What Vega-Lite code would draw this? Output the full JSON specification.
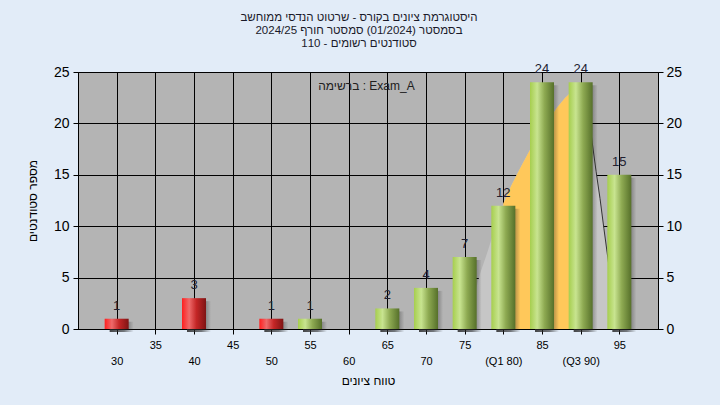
{
  "$schema": "https://vega.github.io/schema/vega-lite/v6.json",
  "width": 580,
  "height": 257,
  "autosize": {"type": "none"},
  "padding": {"left": 78, "top": 72, "right": 62, "bottom": 76},
  "background": "#e2ecf8",
  "title": {
    "text": ["היסטוגרמת ציונים בקורס - שרטוט הנדסי ממוחשב", "בסמסטר  (01/2024)  סמסטר חורף 2024/25", "סטודנטים רשומים - 110"],
    "fontSize": 11.5,
    "fontWeight": "normal",
    "font": "Liberation Sans",
    "color": "#1a1a2a",
    "anchor": "middle",
    "lineHeight": 13,
    "offset": 14,
    "dx": -9
  },
  "config": {
    "view": {"fill": "#b4b4b4", "stroke": "#000000", "strokeWidth": 1},
    "font": "Liberation Sans",
    "axis": {
      "domainColor": "#000000",
      "tickColor": "#000000",
      "gridColor": "#000000",
      "gridOpacity": 1,
      "labelColor": "#000000",
      "titleColor": "#000000",
      "labelFont": "Liberation Sans",
      "titleFont": "Liberation Sans",
      "titleFontWeight": "normal",
      "labelOverlap": false,
      "labelFlush": false,
      "tickSize": 5
    }
  },
  "datasets": {
    "bars": [
      {"g": 30, "n": 1}, {"g": 40, "n": 3}, {"g": 50, "n": 1}, {"g": 55, "n": 1},
      {"g": 65, "n": 2}, {"g": 70, "n": 4}, {"g": 75, "n": 7}, {"g": 80, "n": 12},
      {"g": 85, "n": 24}, {"g": 90, "n": 24}, {"g": 95, "n": 15}
    ],
    "curve": [
      {"g": 74, "v": 0}, {"g": 76, "v": 2.6}, {"g": 77, "v": 5.4}, {"g": 78, "v": 7.6},
      {"g": 79, "v": 10}, {"g": 80, "v": 12.2}, {"g": 81, "v": 13.9}, {"g": 82, "v": 15.4},
      {"g": 83, "v": 16.8}, {"g": 84, "v": 18.2}, {"g": 85, "v": 19.4}, {"g": 86, "v": 20.5},
      {"g": 87, "v": 21.6}, {"g": 88, "v": 22.5}, {"g": 89, "v": 23.2}, {"g": 90, "v": 23.4},
      {"g": 91, "v": 21}, {"g": 91.5, "v": 18.1}, {"g": 92, "v": 15.3}, {"g": 92.5, "v": 12.7},
      {"g": 93, "v": 9.8}, {"g": 93.5, "v": 7}, {"g": 94, "v": 4.2}, {"g": 94.8, "v": 0}
    ]
  },
  "layer": [
    {
      "data": {"name": "curve"},
      "mark": {"type": "area", "color": "#c6c6c6"},
      "encoding": {
        "x": {"field": "g", "type": "quantitative", "scale": {"domain": [25, 100], "nice": false, "zero": false, "padding": 0},
          "axis": {"orient": "bottom", "values": [35, 45, 55, 65, 75, 85, 95], "grid": true, "labelFontSize": 11, "labelPadding": 5, "title": null}},
        "y": {"field": "v", "type": "quantitative", "scale": {"domain": [0, 25], "nice": false},
          "axis": {"orient": "left", "values": [0, 5, 10, 15, 20, 25], "grid": true, "labelFontSize": 14, "labelPadding": 4,
            "title": "מספר סטודנטים", "titleFontSize": 12, "titlePadding": 14}}
      }
    },
    {
      "data": {"name": "curve"},
      "transform": [{"filter": "datum.g >= 80 && datum.g <= 90"}],
      "mark": {"type": "area", "color": "#ffc85a"},
      "encoding": {
        "x": {"field": "g", "type": "quantitative", "scale": {"domain": [25, 100], "nice": false, "zero": false, "padding": 0},
          "axis": {"orient": "bottom", "values": [30, 40, 50, 60, 70, 80, 90], "grid": true, "labelFontSize": 11, "labelPadding": 21,
            "labelExpr": "datum.value == 80 ? '(Q1 80)' : datum.value == 90 ? '(Q3 90)' : datum.label",
            "title": "טווח ציונים", "titleFontSize": 12, "titlePadding": 9}},
        "y": {"field": "v", "type": "quantitative", "scale": {"domain": [0, 25], "nice": false},
          "axis": {"orient": "right", "values": [0, 5, 10, 15, 20, 25], "grid": false, "labelFontSize": 14, "labelPadding": 3, "title": null}}
      }
    },
    {
      "data": {"name": "curve"},
      "transform": [{"filter": "datum.g >= 90"}],
      "mark": {"type": "line", "color": "#333333", "strokeWidth": 1},
      "encoding": {
        "x": {"field": "g", "type": "quantitative", "scale": {"domain": [25, 100], "nice": false, "zero": false, "padding": 0}, "axis": null},
        "y": {"field": "v", "type": "quantitative", "scale": {"domain": [0, 25], "nice": false}, "axis": null}
      }
    },
    {
      "data": {"name": "bars"},
      "mark": {"type": "bar", "size": 24, "xOffset": 5, "yOffset": 3,
        "color": {"gradient": "linear", "x1": 0, "y1": 0, "x2": 1, "y2": 0,
          "stops": [{"offset": 0, "color": "rgba(40,40,40,0.85)"}, {"offset": 0.6, "color": "rgba(40,40,40,0.6)"}, {"offset": 1, "color": "rgba(40,40,40,0)"}]}},
      "encoding": {
        "x": {"field": "g", "type": "quantitative", "scale": {"domain": [25, 100], "nice": false, "zero": false, "padding": 0}, "axis": null},
        "y": {"field": "n", "type": "quantitative", "scale": {"domain": [0, 25], "nice": false}, "axis": null}
      }
    },
    {
      "data": {"name": "bars"},
      "transform": [{"filter": "datum.g < 55"}],
      "mark": {"type": "bar", "size": 24,
        "color": {"gradient": "linear", "x1": 0, "y1": 0, "x2": 1, "y2": 0,
          "stops": [{"offset": 0, "color": "#ff1f1f"}, {"offset": 0.3, "color": "#ee6a6a"}, {"offset": 0.6, "color": "#c42626"}, {"offset": 1, "color": "#7e1414"}]}},
      "encoding": {
        "x": {"field": "g", "type": "quantitative", "scale": {"domain": [25, 100], "nice": false, "zero": false, "padding": 0}, "axis": null},
        "y": {"field": "n", "type": "quantitative", "scale": {"domain": [0, 25], "nice": false}, "axis": null}
      }
    },
    {
      "data": {"name": "bars"},
      "transform": [{"filter": "datum.g >= 55"}],
      "mark": {"type": "bar", "size": 24,
        "color": {"gradient": "linear", "x1": 0, "y1": 0, "x2": 1, "y2": 0,
          "stops": [{"offset": 0, "color": "#a6ce4e"}, {"offset": 0.3, "color": "#c8e490"}, {"offset": 0.6, "color": "#8eaa52"}, {"offset": 1, "color": "#56702a"}]}},
      "encoding": {
        "x": {"field": "g", "type": "quantitative", "scale": {"domain": [25, 100], "nice": false, "zero": false, "padding": 0}, "axis": null},
        "y": {"field": "n", "type": "quantitative", "scale": {"domain": [0, 25], "nice": false}, "axis": null}
      }
    },
    {
      "data": {"name": "bars"},
      "mark": {"type": "text", "fontSize": 13, "baseline": "bottom", "dy": -6, "color": "#202030"},
      "encoding": {
        "x": {"field": "g", "type": "quantitative", "scale": {"domain": [25, 100], "nice": false, "zero": false, "padding": 0}, "axis": null},
        "y": {"field": "n", "type": "quantitative", "scale": {"domain": [0, 25], "nice": false}, "axis": null},
        "text": {"field": "n", "type": "quantitative"}
      }
    },
    {
      "data": {"values": [{"label": "ברשימה : Exam_A"}]},
      "mark": {"type": "text", "fontSize": 12, "baseline": "middle", "align": "center", "color": "#202020"},
      "encoding": {
        "x": {"datum": 62.3, "type": "quantitative", "scale": {"domain": [25, 100], "nice": false, "zero": false, "padding": 0}, "axis": null},
        "y": {"datum": 23.6, "type": "quantitative", "scale": {"domain": [0, 25], "nice": false}, "axis": null},
        "text": {"field": "label"}
      }
    }
  ],
  "resolve": {"axis": {"x": "independent", "y": "independent"}}
}
